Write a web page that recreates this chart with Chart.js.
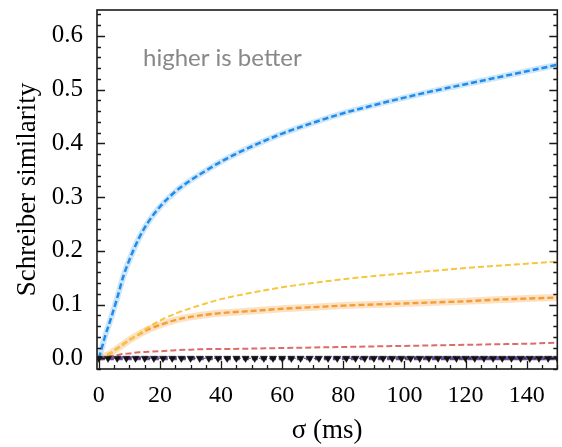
<!DOCTYPE html>
<html>
<head>
<meta charset="utf-8">
<script src="https://cdn.jsdelivr.net/npm/chart.js@4/dist/chart.umd.min.js"></script>
<style>
html, body { margin: 0; padding: 0; background: #fff; }
</style>
</head>
<body>
<canvas id="myChart" width="562" height="447"></canvas>
<script>
// sigma (ms) sample points for the similarity curves
const sigma = [0, 1, 2, 4, 6, 8, 10, 13, 16, 20, 25, 30, 35, 40, 50, 60, 70, 80, 90, 100, 110, 120, 130, 140, 150];

const blueVals   = [0, 0.02, 0.04, 0.075, 0.112, 0.152, 0.183, 0.222, 0.252, 0.282, 0.31, 0.331, 0.349, 0.366, 0.394, 0.418, 0.438, 0.456, 0.471, 0.485, 0.498, 0.51, 0.522, 0.534, 0.546];
const yellowVals = [0, 0.002, 0.004, 0.01, 0.018, 0.026, 0.034, 0.045, 0.057, 0.07, 0.083, 0.093, 0.102, 0.11, 0.122, 0.132, 0.14, 0.147, 0.153, 0.158, 0.163, 0.168, 0.172, 0.176, 0.18];
const orangeVals = [0, 0.002, 0.004, 0.01, 0.018, 0.026, 0.034, 0.044, 0.053, 0.062, 0.071, 0.077, 0.081, 0.084, 0.088, 0.092, 0.095, 0.098, 0.1, 0.102, 0.104, 0.106, 0.109, 0.111, 0.113];
const redVals    = [0, 0.001, 0.002, 0.004, 0.006, 0.008, 0.009, 0.011, 0.012, 0.013, 0.015, 0.016, 0.017, 0.017, 0.018, 0.019, 0.02, 0.021, 0.022, 0.023, 0.024, 0.025, 0.026, 0.027, 0.029];

// flat baseline
const sigmaFlat = [0, 150];
const purpleVals = [0, 0];

// shuffled control, marked every 3 ms
const sigmaMarked = [0, 3, 6, 9, 12, 15, 18, 21, 24, 27, 30, 33, 36, 39, 42, 45, 48, 51, 54, 57, 60, 63, 66, 69, 72, 75, 78, 81, 84, 87, 90, 93, 96, 99, 102, 105, 108, 111, 114, 117, 120, 123, 126, 129, 132, 135, 138, 141, 144, 147, 150];
const blackVals = [0, 0, 0, 0, 0, 0, 0, 0, 0, 0, 0, 0, 0, 0, 0, 0, 0, 0, 0, 0, 0, 0, 0, 0, 0, 0, 0, 0, 0, 0, 0, 0, 0, 0, 0, 0, 0, 0, 0, 0, 0, 0, 0, 0, 0, 0, 0, 0, 0, 0, 0];

const xTickValues = [0, 20, 40, 60, 80, 100, 120, 140];
const yTickValues = [0, 0.1, 0.2, 0.3, 0.4, 0.5, 0.6];

const toPoints = (xs, ys) => xs.map((x, i) => ({ x: x, y: ys[i] }));

const serif = "'Liberation Serif', 'Times New Roman', serif";

// inside ticks + box frame + annotation
const frameAndTicks = {
    id: 'frameAndTicks',
    afterDatasetsDraw(chart) {
        const { ctx, chartArea: a, scales: { x, y } } = chart;
        ctx.save();
        ctx.strokeStyle = '#1a1a1a';
        ctx.lineWidth = 1.3;
        ctx.beginPath();
        for (let i = -1; i <= 32; i++) {
            const v = i * 0.02;
            if (v < y.min - 1e-9 || v > y.max) continue;
            const py = Math.round(y.getPixelForValue(v)) + 0.5;
            const len = (i % 5 === 0) ? 8 : 4;
            ctx.moveTo(a.left, py); ctx.lineTo(a.left + len, py);
            ctx.moveTo(a.right, py); ctx.lineTo(a.right - len, py);
        }
        for (let v = 0; v <= 150; v += 5) {
            if (v > x.max) continue;
            const px = Math.round(x.getPixelForValue(v)) + 0.5;
            const len = (v % 20 === 0) ? 8 : 4;
            ctx.moveTo(px, a.bottom); ctx.lineTo(px, a.bottom - len);
        }
        ctx.stroke();
        ctx.lineWidth = 1.6;
        ctx.strokeRect(a.left, a.top, a.right - a.left, a.bottom - a.top);

        ctx.fillStyle = '#888888';
        ctx.font = "24px 'Lato', sans-serif";
        ctx.textAlign = 'left';
        ctx.textBaseline = 'alphabetic';
        ctx.fillText('higher is better', 143, 66);
        ctx.restore();
    }
};

const dash = [6, 3];

const options = {
    type: 'line',
    data: {
        datasets: [
            {
                label: 'shuffled',
                data: toPoints(sigmaMarked, blackVals),
                borderColor: 'rgba(17,17,17,0.8)',
                backgroundColor: '#111',
                borderWidth: 1.2,
                borderDash: [2, 3],
                pointStyle: 'triangle',
                rotation: 180,
                pointRadius: 4.2,
                pointBorderWidth: 0.5,
                order: 1
            },
            {
                label: 'baseline',
                data: toPoints(sigmaFlat, purpleVals),
                borderColor: '#6b4c9a',
                borderWidth: 4,
                borderDash: dash,
                pointRadius: 0,
                order: 2
            },
            {
                label: 'blue',
                data: toPoints(sigma, blueVals),
                borderColor: '#1f8ceb',
                borderWidth: 2.5,
                borderDash: dash,
                pointRadius: 0,
                order: 3
            },
            {
                label: 'yellow',
                data: toPoints(sigma, yellowVals),
                borderColor: '#f6c73d',
                borderWidth: 2,
                borderDash: dash,
                pointRadius: 0,
                order: 4
            },
            {
                label: 'orange',
                data: toPoints(sigma, orangeVals),
                borderColor: '#f59d35',
                borderWidth: 2.4,
                borderDash: dash,
                pointRadius: 0,
                order: 5
            },
            {
                label: 'red',
                data: toPoints(sigma, redVals),
                borderColor: '#dd6c68',
                borderWidth: 2,
                borderDash: dash,
                pointRadius: 0,
                order: 6
            },
            {
                label: 'blue band',
                data: toPoints(sigma, blueVals),
                borderColor: 'rgba(31,140,235,0.22)',
                borderWidth: 6,
                pointRadius: 0,
                order: 10
            },
            {
                label: 'orange band',
                data: toPoints(sigma, orangeVals),
                borderColor: 'rgba(245,157,53,0.3)',
                borderWidth: 7,
                pointRadius: 0,
                order: 10
            }
        ]
    },
    options: {
        responsive: false,
        animation: false,
        layout: { padding: { left: 0, right: 4, top: 10, bottom: 0 } },
        elements: { line: { cubicInterpolationMode: 'monotone' } },
        plugins: { legend: { display: false }, tooltip: { enabled: false } },
        scales: {
            x: {
                type: 'linear',
                min: -0.6,
                max: 150,
                grid: { display: false, drawTicks: false, tickLength: 0 },
                border: { display: false },
                afterBuildTicks: (scale) => { scale.ticks = xTickValues.map(v => ({ value: v })); },
                afterFit: (scale) => { scale.height = 78; scale.paddingLeft = 0; scale.paddingRight = 0; },
                ticks: { font: { family: serif, size: 24 }, color: '#000', padding: 12, maxRotation: 0 },
                title: { display: true, text: 'σ (ms)', font: { family: serif, size: 27 }, color: '#000', padding: { top: 0, bottom: 0 } }
            },
            y: {
                type: 'linear',
                min: -0.02,
                max: 0.648,
                grid: { display: false, drawTicks: false, tickLength: 0 },
                border: { display: false },
                afterBuildTicks: (scale) => { scale.ticks = yTickValues.map(v => ({ value: v })); },
                afterFit: (scale) => { scale.width = 97; scale.paddingTop = 0; scale.paddingBottom = 0; },
                ticks: { font: { family: serif, size: 25 }, color: '#000', padding: 14, callback: (v) => Number(v).toFixed(1) },
                title: { display: true, text: 'Schreiber similarity', font: { family: serif, size: 27 }, color: '#000', padding: { top: 12, bottom: 0 } }
            }
        }
    },
    plugins: [frameAndTicks]
};

new Chart(document.getElementById('myChart'), options);
</script>
</body>
</html>
